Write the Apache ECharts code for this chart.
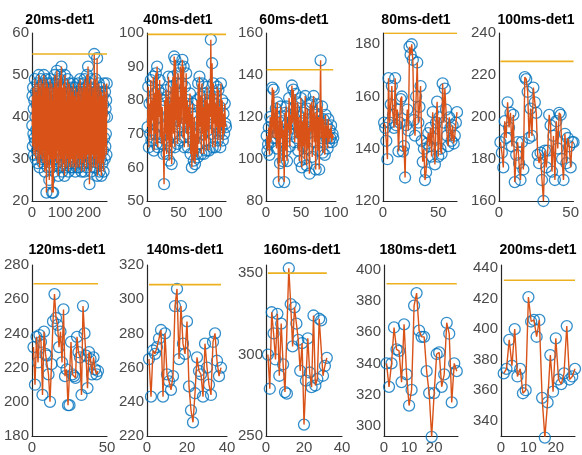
<!DOCTYPE html>
<html><head><meta charset="utf-8">
<script src="https://cdn.jsdelivr.net/npm/echarts@6/dist/echarts.min.js"></script>
<style>html,body{margin:0;padding:0;background:#fff}#c{width:582px;height:455px}</style>
</head><body><div id="c"></div>
<script>
const titles = ['20ms-det1','40ms-det1','60ms-det1','80ms-det1','100ms-det1','120ms-det1','140ms-det1','160ms-det1','180ms-det1','200ms-det1'];

const d20 = [38,45,33,47,36,42,31,44,35,49,34,40,30,46,37,43,32,48,36,41,
29,45,38,50,33,44,28,47,35,42,31,49,37,45,30,43,34,48,29,46,
36,50,32,44,27,47,38,42,30,49,22,45,33,48,28,41,35,47,31,44,
25,43,36,49,30,46,34,41,28,48,22,44,37,40,22,47,33,45,27,50,
36,43,30,48,35,41,29,51,38,44,32,47,26,42,37,49,31,45,28,50,
35,41,30,52,37,44,27,47,33,40,29,48,36,43,26,50,34,45,31,47,
28,44,38,41,30,49,35,46,27,43,33,48,29,40,37,45,28,47,32,42,
30,46,36,43,28,48,33,40,29,45,35,42,27,47,31,44,38,41,28,46,
34,43,30,48,36,41,28,45,33,49,30,44,37,42,27,47,32,46,29,43,
35,48,31,44,27,49,36,42,30,47,33,45,28,50,37,43,31,52,34,46,
29,44,24,48,35,41,30,49,27,45,38,42,31,47,33,44,28,46,36,55,
30,45,34,49,28,43,37,46,31,54,26,44,35,41,29,48,33,45,27,42,
36,47,30,44,26,46,34,41,29,45,32,43,27,48,35,40,30,46,33,42,
36,44,31,48,40];
const d40 = [72,84,66,79,70,86,68,80,74,87,65,82,70,88,67,90,66,83,75,86,
69,82,67,78,72,64,55,80,70,83,64,81,68,87,62,79,66,84,61,76,
87,70,93,66,92,74,85,67,88,72,81,68,90,73,85,92,69,90,66,84,
73,88,70,80,66,78,72,82,64,76,60,79,68,62,75,61,70,64,80,63,
85,67,87,72,81,64,85,70,78,64,82,68,80,65,84,71,79,65,82,75,
98,70,91,66,85,73,82,66,79,72,84,68,83,70,78,66,85,72,80,68,
76,70,79,73,72];
const d60 = [111,104,107,115,102,120,108,118,134,110,133,116,110,124,105,127,112,89,120,98,
125,110,118,99,114,89,122,104,125,99,117,114,129,106,121,112,135,117,133,124,
108,131,116,110,127,104,120,99,112,129,96,118,106,122,100,130,113,97,124,105,
115,93,126,113,127,101,118,130,108,122,95,117,126,104,120,95,118,147,110,125,
103,119,112,102,121,110,116,105,119,108,114,110,116,108,112,110];
const d80 = [150,148,143,136,167,150,157,164,153,148,167,149,155,139,150,159,160,139,141,129,
149,155,147,179,176,180,174,151,145,160,173,150,156,164,143,135,140,128,131,142,
146,141,148,137,154,144,134,150,158,137,152,140,138,165,150,163,155,145,141,152,
148,143,149,142,145,150,154];
const d100 = [188,183,176,198,190,207,195,202,186,201,169,182,188,178,170,188,175,219,218,212,
190,204,191,214,207,202,182,178,183,170,160,184,176,184,201,196,174,191,170,198,
185,202,201,180,170,192,178,190,186,176,188,188];
const d120 = [232,210,238,223,239,235,204,241,228,227,216,200,222,247,263,249,245,232,241,223,
254,215,219,198,198,235,216,215,214,238,229,226,204,256,240,227,208,229,225,216,
226,219,216,218];
const d140 = [265,243,270,268,272,277,282,243,280,256,252,247,255,296,306,265,296,274,268,287,
249,235,228,245,266,258,256,243,274,260,250,244,275,280,264,255,260];
const d160 = [300,279,326,313,297,325,287,319,294,277,276,353,331,305,329,319,309,290,307,257,
284,310,289,280,324,281,285,322,321,287,293,298];
const d180 = [340,325,340,363,349,348,328,365,333,313,323,377,385,361,357,357,335,321,293,321,
346,347,325,333,366,359,315,340,335];
const d200 = [371,374,393,376,400,369,374,358,360,421,405,406,395,406,355,329,352,383,359,394,
367,364,371,402,367,369,374];

const thresholds = [55, 99.6, 142.5, 184.2, 226.5, 269, 308.5, 350, 391, 432];
const yMin = [20, 50, 80, 120, 160, 180, 220, 250, 293.5, 330];
const yMax = [60, 100, 160, 184.3, 240, 280, 320, 355, 403, 442];
const xMax = [265, 125, 100, 67, 52, 50, 40, 40, 29.5, 27];
const yTicks = [[20,30,40,50,60],[50,60,70,80,90,100],[80,100,120,140,160],[120,140,160,180],[160,180,200,220,240],
  [180,200,220,240,260,280],[220,240,260,280,300,320],[250,300,350],[300,320,340,360,380,400],[340,360,380,400,420,440]];
const xTicks = [[0,100,200],[0,50,100],[0,50,100],[0,50],[0,50],[0,50],[0,20,40],[0,20,40],[0,10,20],[0,10,20]];

const seriesData = [d20,d40,d60,d80,d100,d120,d140,d160,d180,d200];

// layout
const lefts = [32,147,266,383,499, 32,147,266,384,501];
const widths = [75,79,70,74,76, 75,80,76,74,74];
const tops = [33,33,33,33,33, 265,265,265,265,265];
const bottoms = [201,201,201,201,201, 437,437,437,437,437];
const titleX = [60,178,294,416,536, 67,185,302,418,538];
const titleY = [13,13,13,13,13, 243,243,243,243,243];

const FONT = 'Liberation Sans, Arial, sans-serif';
const grid=[], xAxis=[], yAxis=[], series=[], title=[];
for (let i=0;i<10;i++){
  grid.push({left:lefts[i], top:tops[i], width:widths[i], height:bottoms[i]-tops[i]});
  title.push({text:titles[i], left:titleX[i], top:titleY[i], textAlign:'center', padding:0,
    textStyle:{fontSize:14, fontWeight:'bold', color:'#000', fontFamily:FONT}});
  const axCommon = {gridIndex:i, type:'value', splitLine:{show:false}, axisTick:{show:false},
    axisLine:{show:true, onZero:false, lineStyle:{color:'#262626', width:1.2}}};
  xAxis.push(Object.assign({}, axCommon, {min:0, max:xMax[i],
    axisLabel:{customValues:xTicks[i], fontSize:15, color:'#4a4a4a', margin:4, fontFamily:FONT}}));
  yAxis.push(Object.assign({}, axCommon, {min:yMin[i], max:yMax[i],
    axisLabel:{customValues:yTicks[i], fontSize:15, color:'#4a4a4a', margin:3, fontFamily:FONT}}));
  const arr = seriesData[i];
  const pts = arr.map((v,k)=>[k+1,v]);
  series.push({type:'scatter', xAxisIndex:i, yAxisIndex:i, data:pts, symbol:'circle', symbolSize:11, clip:false,
    itemStyle:{color:'rgba(0,0,0,0)', borderColor:'#0072BD', borderWidth:1.3}, silent:true});
  series.push({type:'line', xAxisIndex:i, yAxisIndex:i, data:pts, showSymbol:false, symbol:'none',
    lineStyle:{color:'#D95319', width:1.4}, silent:true});
  series.push({type:'line', xAxisIndex:i, yAxisIndex:i, data:[[1,thresholds[i]],[arr.length,thresholds[i]]],
    showSymbol:false, symbol:'none', lineStyle:{color:'#EDB120', width:1.6}, silent:true});
}
const chart = echarts.init(document.getElementById('c'));
chart.setOption({animation:false, backgroundColor:'#fff', title, grid, xAxis, yAxis, series});
</script></body></html>
